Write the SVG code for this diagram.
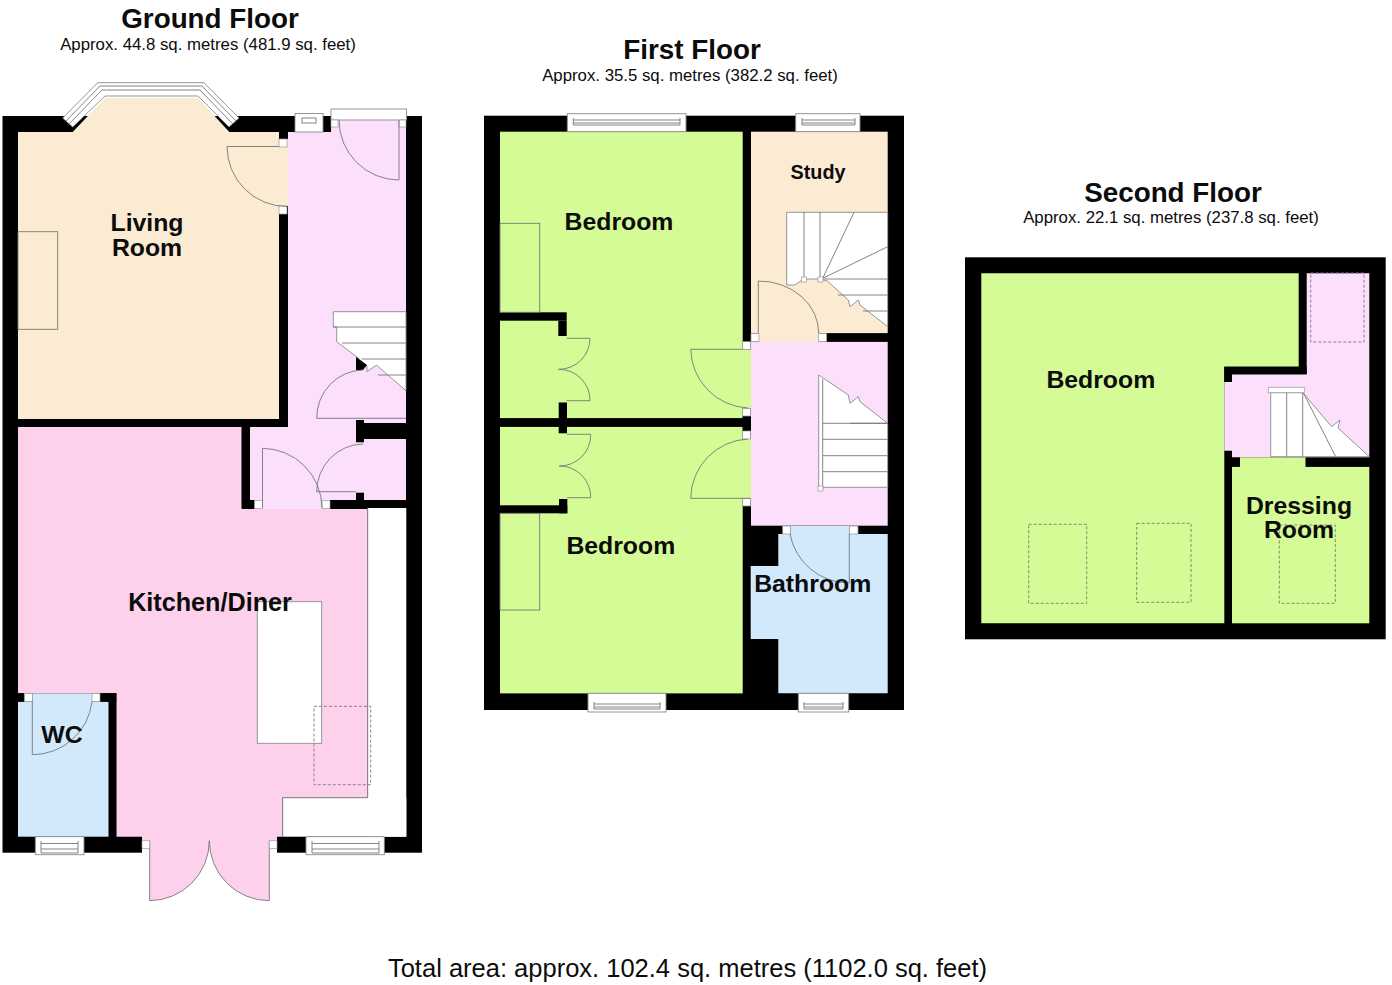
<svg xmlns="http://www.w3.org/2000/svg" width="1392" height="985" viewBox="0 0 1392 985">
<style>
text{font-family:"Liberation Sans",Arial,sans-serif;fill:#0c0c0c;text-anchor:middle}
.title{font-size:27.8px;font-weight:700}
.sub{font-size:16.8px}
.room{font-size:24.8px;font-weight:700}
.wall{fill:#000}
.ln{fill:none;stroke:#777;stroke-width:.9}
.wh{fill:#fff;stroke:#8a8a8a;stroke-width:.9}
.jb{fill:#fff;stroke:#999;stroke-width:.7}
.dash{fill:none;stroke:#8f7f8f;stroke-width:1;stroke-dasharray:3 2}
.dashg{fill:none;stroke:#7f8f62;stroke-width:1;stroke-dasharray:3 2}
.peach{fill:#fcebd3}.lilac{fill:#fbdffb}.pink{fill:#fdd1ec}.blue{fill:#d2e9fb}.green{fill:#d4fb96}
</style>
<rect width="1392" height="985" fill="#fff"/>

<g id="ground-floor">
<rect class="wall" x="2.5" y="116" width="419.5" height="736.7"/>
<path class="wh" d="M62.7 118L97.7 82.7H204L239 118L229 127L198 96H105L72.7 127Z"/>
<path class="ln" d="M66 121L100 86H202L236 121M69 124L102 90H200L233 124"/>
<path class="peach" d="M18 132H72.7L105 98H198L229.300 132H279V139H288V206H279V419H18Z"/>
<rect class="lilac" x="288" y="132" width="118" height="295"/>
<rect class="lilac" x="250" y="427" width="156" height="74"/>
<rect class="lilac" x="254.500" y="500" width="75.500" height="9"/>
<rect class="lilac" x="331" y="120" width="75" height="13"/>
<path class="pink" d="M18 427H241.700V509H367.700V797.700H282.700V836.700H116.300V693.300H18Z"/>
<rect class="blue" x="18" y="701.700" width="90.700" height="135"/>
<rect class="blue" x="32.300" y="693.300" width="59.700" height="9"/>
<rect fill="#fff" x="367.700" y="508" width="38.600" height="328.700"/>
<rect fill="#fff" x="282.700" y="797.700" width="123.600" height="39"/>
<rect fill="#fff" x="142" y="836" width="135" height="17"/>
<path class="pink" d="M142 836H277V840.700H269.300V900.700A60 60 0 0 1 209.300 840.700A60 60 0 0 1 149.700 900.700V840.700H142Z"/>
<path class="ln" d="M269.300 840.700V900.700A60 60 0 0 1 209.300 840.700A60 60 0 0 1 149.700 900.700V840.700"/>
<path class="ln" d="M367.700 508V797.700H282.700V836.700"/>

<rect class="wall" x="279" y="132" width="8.300" height="7"/>
<rect class="wall" x="279" y="214" width="8.300" height="213"/>
<rect class="wall" x="18" y="419" width="269" height="8"/>
<rect class="wall" x="241.700" y="427" width="8.300" height="81"/>
<rect class="wall" x="250" y="500" width="4.500" height="8"/>
<rect class="wall" x="330" y="500" width="76" height="8"/>
<rect class="wall" x="356" y="492.700" width="8" height="8"/>
<rect class="wall" x="356" y="420" width="8" height="22.300"/>
<rect class="wall" x="364" y="423" width="42" height="16"/>
<rect class="jb" x="279" y="139" width="8" height="8"/>
<rect class="jb" x="279" y="206" width="8" height="8"/>
<rect class="jb" x="254.500" y="500.700" width="8" height="7.600"/>
<rect class="jb" x="322" y="500.700" width="8" height="7.600"/>
<path class="ln" d="M279 146.500H227A60 60 0 0 0 287 206.500"/>

<rect class="wh" x="331" y="109" width="75.500" height="11"/>
<rect class="jb" x="331" y="120" width="7" height="7"/>
<rect class="jb" x="399" y="120" width="7" height="7"/>
<path class="ln" d="M399 120V180A60 60 0 0 1 339 120"/>
<rect class="wh" x="295" y="113.500" width="28" height="18.500"/>
<rect class="ln" x="302" y="118" width="14" height="5"/>

<path class="wh" d="M333.300 311.700H406V390.700L378.300 366.700L376.700 365L367 371.700V366L357 357L336.700 341.700V327H333.300Z"/>
<path class="ln" d="M333.300 327H406M342 343H406M362 359H406M378 375H406"/>
<path class="wall" d="M356 357L367 365L363 370H356Z"/>
<path class="ln" d="M316.700 418.300H406M316.700 418.300A47 48 0 0 1 363 370M316.700 491.700H356M316.700 491.700A47 47.700 0 0 1 363 444"/>
<path class="ln" d="M262.500 508V448.300A60 60 0 0 1 322 508"/>

<rect class="wall" x="18" y="693.300" width="6.300" height="8.400"/>
<rect class="wall" x="100" y="693.300" width="16.300" height="8.400"/>
<rect class="wall" x="108.700" y="693.300" width="7.600" height="143.400"/>
<rect class="jb" x="24.300" y="693.300" width="8" height="8.400"/>
<rect class="jb" x="92" y="693.300" width="8" height="8.400"/>
<path class="ln" d="M32.300 701.700V754.700A60 60 0 0 0 92 701.700"/>

<rect class="jb" x="142" y="840.700" width="7.700" height="8"/>
<rect class="jb" x="269.300" y="840.700" width="7.700" height="8"/>

<rect class="wh" x="35.300" y="836.700" width="48.700" height="18"/>
<path class="ln" d="M41 841V853H78V841M41 843.500H78M41 849H78"/>
<rect class="wh" x="306" y="836.700" width="78.300" height="18"/>
<path class="ln" d="M312 841V853H379V841M312 843.500H379M312 849H379"/>

<rect class="ln" x="18" y="231.700" width="39.700" height="97.600"/>
<rect class="wh" x="257.300" y="601.700" width="64.400" height="141.600"/>
<rect class="dash" x="314" y="706.300" width="56.700" height="78.400"/>
<text class="room" x="147" y="231">Living</text>
<text class="room" x="147" y="255.500">Room</text>
<text class="room" x="210" y="610.700" style="font-size:25.200px">Kitchen/Diner</text>
<text class="room" x="62" y="742.600">WC</text>
<text class="title" x="210" y="27.500">Ground Floor</text>
<text class="sub" x="208" y="50">Approx. 44.8 sq. metres (481.9 sq. feet)</text>
</g>

<g id="first-floor">
<rect class="wall" x="484" y="115.700" width="420" height="594.300"/>
<rect class="green" x="500" y="131.700" width="242.700" height="286.600"/>
<rect class="green" x="500" y="426.700" width="242.700" height="266.700"/>
<rect class="green" x="742" y="349.300" width="9" height="59"/>
<rect class="green" x="742" y="439" width="9" height="59.300"/>
<rect class="peach" x="751" y="131.700" width="136.700" height="201.700"/>
<rect class="peach" x="759" y="333" width="60" height="9"/>
<rect class="lilac" x="751" y="341.700" width="136.700" height="184"/>
<path class="blue" d="M778.300 534H790.700V526H849.300V534H887.700V693.300H778.300V639H750.700V566H778.300Z"/>

<rect class="wall" x="500" y="312.300" width="66.700" height="8.400"/>
<rect class="wall" x="558.300" y="320.700" width="8.400" height="15.300"/>
<rect class="wall" x="558.700" y="402.500" width="8.300" height="30.800"/>
<rect class="wall" x="500" y="418.300" width="250.700" height="8.400"/>
<rect class="wall" x="559" y="499" width="8.300" height="14.300"/>
<rect class="wall" x="500" y="505.300" width="67.300" height="8"/>
<rect class="wall" x="742.700" y="416" width="8" height="15"/>
<rect class="wall" x="826.700" y="333.300" width="61" height="8.400"/>

<rect class="jb" x="751" y="333.500" width="8" height="8.200"/>
<rect class="jb" x="818.700" y="333.500" width="8" height="8.200"/>
<rect class="jb" x="742.700" y="341.700" width="8" height="7.600"/>
<rect class="jb" x="742.700" y="408.300" width="8" height="7.700"/>
<rect class="jb" x="742.700" y="431" width="8" height="8"/>
<rect class="jb" x="742.700" y="498.300" width="8" height="7.700"/>
<rect class="jb" x="782.700" y="526" width="8" height="8"/>
<rect class="jb" x="849.300" y="526" width="8.700" height="8"/>

<rect class="ln" x="500" y="223.300" width="39.700" height="89"/>
<rect class="ln" x="500" y="513.300" width="39.700" height="96.700"/>
<path class="ln" d="M742.700 349.300H690.700A60 60 0 0 0 748 408M750 498.300H690.700A60 60 0 0 1 748 439"/>
<path class="ln" d="M758.300 333V281A60 52 0 0 1 818.700 333"/>
<path class="ln" d="M566.700 338.300H590A31 31 0 0 1 558.500 369.300A31 31 0 0 1 590 400.700H566.700M567 434.300H590.700A31 31 0 0 1 559.300 466A31 31 0 0 1 590.700 497.700H567"/>
<path class="ln" d="M790 534A60 60 0 0 0 849.300 583V534"/>

<path class="wh" d="M786.700 212.300H887.700V326.700L860 305L858.300 300L850 306.700L848.300 300L827.300 281L820 279H803.300L795 285H786.700Z"/>
<path class="ln" d="M804 212.300V279M820 212.300V279M822.700 278.300L854 212.300M822.700 278.300L887.700 246.700M822.700 279H887.700M838 295H887.700M863 311H887.700"/>
<rect class="jb" x="801.500" y="277" width="5" height="5"/>
<rect class="jb" x="818" y="277" width="5" height="5"/>

<path class="wh" d="M818.700 375L848.300 395L850 403.300L858.300 396.700L860 401.700L887.700 423.300V487.300H822.700V490H818.700Z"/>
<path class="ln" d="M822.700 379V487.300M850 423.300H887.700M822.700 423.300H887.700M822.700 439.300H887.700M822.700 455.700H887.700M822.700 471.700H887.700"/>
<rect class="jb" x="818" y="486" width="5" height="5"/>

<rect class="wh" x="567.300" y="113.700" width="118.700" height="18"/>
<path class="ln" d="M573.300 118V125H680V118M573.300 120H680M573.300 123H680"/>
<rect class="wh" x="795.700" y="113.700" width="64.300" height="18"/>
<path class="ln" d="M802 118V125H855V118M802 120H855M802 123H855"/>
<rect class="wh" x="588" y="693.300" width="78" height="18.700"/>
<path class="ln" d="M594 702V709H660V702M594 704H660M594 707H660"/>
<rect class="wh" x="798.300" y="693.300" width="50.400" height="18.700"/>
<path class="ln" d="M804 702V709H843V702M804 704H843M804 707H843"/>

<text class="room" x="619" y="230">Bedroom</text>
<text class="room" x="620.800" y="554">Bedroom</text>
<text class="room" x="812.700" y="591.500">Bathroom</text>
<text class="room" x="818" y="179" style="font-size:19.800px">Study</text>
<text class="title" x="692" y="58.500">First Floor</text>
<text class="sub" x="690" y="80.500">Approx. 35.5 sq. metres (382.2 sq. feet)</text>
</g>

<g id="second-floor">
<rect class="wall" x="965" y="257.300" width="420.700" height="382"/>
<path class="green" d="M981.300 273.300H1298.700V366.700H1224.300V623.300H981.300Z"/>
<path class="lilac" d="M1306.700 273.300H1369.300V457.300H1232V450.700H1224.300V382H1232V374.300H1306.700Z"/>
<rect class="green" x="1232" y="466.700" width="137.300" height="156.600"/>
<rect class="green" x="1240" y="457.300" width="65.700" height="10"/>
<rect class="wall" x="1224.300" y="366.700" width="82.400" height="7.600"/>
<rect class="wall" x="1224.300" y="374" width="7.700" height="8"/>
<rect class="wall" x="1232" y="459" width="8" height="7.700"/>
<rect class="wall" x="1305.700" y="458" width="63.600" height="8.700"/>
<path class="wh" d="M1270.700 392.700H1302.700L1331.700 426.700L1340 420L1338 428L1369.300 456.700H1270.700Z"/>
<path class="ln" d="M1286.700 392.700V456.700M1302.700 392.700V456.700M1303.300 392.700L1335.700 456.700"/>
<rect class="jb" x="1268.300" y="387.300" width="36" height="5.400"/>
<rect class="dash" x="1310.700" y="273" width="53.300" height="69"/>
<rect class="dashg" x="1028.700" y="524.300" width="58" height="79"/>
<rect class="dashg" x="1136.700" y="523.300" width="54.300" height="79"/>
<rect class="dashg" x="1279.300" y="525" width="56" height="78.300"/>
<text class="room" x="1100.800" y="388">Bedroom</text>
<text class="room" x="1299" y="513.500">Dressing</text>
<text class="room" x="1299" y="538">Room</text>
<text class="title" x="1173" y="201.500">Second Floor</text>
<text class="sub" x="1171" y="223">Approx. 22.1 sq. metres (237.8 sq. feet)</text>
</g>
<text x="687.500" y="977" style="font-size:25.500px">Total area: approx. 102.4 sq. metres (1102.0 sq. feet)</text>
</svg>
